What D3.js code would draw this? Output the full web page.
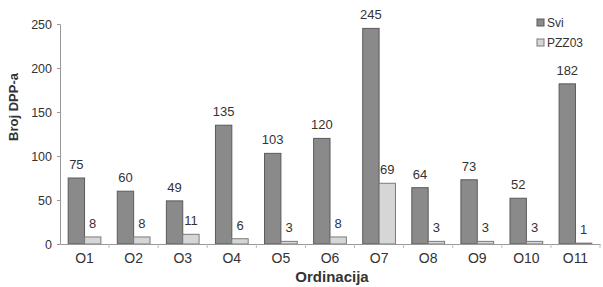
<!DOCTYPE html>
<html>
<head>
<meta charset="utf-8">
<script src="https://cdn.jsdelivr.net/npm/d3@7"></script>
<style>
  body { margin: 0; background: #fff; }
  svg { display: block; font-family: "Liberation Sans", Arial, sans-serif; }
</style>
</head>
<body>
<div id="chart"></div>
<script>
const categories = ["O1", "O2", "O3", "O4", "O5", "O6", "O7", "O8", "O9", "O10", "O11"];
const svi = [75, 60, 49, 135, 103, 120, 245, 64, 73, 52, 182];
const pzz03 = [8, 8, 11, 6, 3, 8, 69, 3, 3, 3, 1];
const seriesNames = ["Svi", "PZZ03"];
const yTicks = [0, 50, 100, 150, 200, 250];

const colors = ["#8a8a8a", "#d6d6d6"];
const strokes = ["#5a5a5a", "#7a7a7a"];
const textColor = "#333333";

const w = 603, h = 287;
const m = { top: 24, right: 3, bottom: 43, left: 60 };

const svg = d3.select("#chart").append("svg").attr("width", w).attr("height", h);

const x = d3.scaleBand().domain(categories).range([m.left, w - m.right]).paddingInner(0).paddingOuter(0);
const y = d3.scaleLinear().domain([0, 250]).range([h - m.bottom, m.top]);
const sub = d3.scaleBand().domain(seriesNames).range([0, x.bandwidth()]).paddingOuter(0.5).paddingInner(0);

// y axis
const gy = svg.append("g").attr("transform", `translate(${m.left},0)`)
  .call(d3.axisLeft(y).tickValues(yTicks).tickSize(3).tickPadding(5));
gy.attr("font-family", null);
gy.select(".domain").attr("stroke", "#999");
gy.selectAll(".tick line").attr("stroke", "#999");
gy.selectAll("text").attr("fill", textColor).attr("font-size", 12.5);

// bars
const rows = categories.map((c, i) => ({ c, vals: [svi[i], pzz03[i]] }));
const grp = svg.append("g").selectAll("g").data(rows).join("g")
  .attr("transform", d => `translate(${x(d.c)},0)`);

grp.selectAll("rect").data(d => d.vals.map((v, k) => ({ v, k }))).join("rect")
  .attr("x", d => sub(seriesNames[d.k]))
  .attr("width", sub.bandwidth())
  .attr("y", d => y(d.v))
  .attr("height", d => y(0) - y(d.v))
  .attr("fill", d => colors[d.k])
  .attr("stroke", d => strokes[d.k])
  .attr("stroke-width", 1);

grp.selectAll("text").data(d => d.vals.map((v, k) => ({ v, k }))).join("text")
  .attr("x", d => sub(seriesNames[d.k]) + sub.bandwidth() / 2)
  .attr("y", d => y(d.v) - 9)
  .attr("text-anchor", "middle")
  .attr("font-size", 13)
  .style("fill", textColor)
  .text(d => d.v);

// x axis
const gx = svg.append("g").attr("transform", `translate(0,${y(0)})`)
  .call(d3.axisBottom(x).tickSize(0).tickPadding(9));
gx.attr("font-family", null);
gx.select(".domain").attr("stroke", "#999");
gx.selectAll("text").attr("fill", textColor).attr("font-size", 14);
// separators between categories
gx.append("g").selectAll("line").data(categories).join("line")
  .attr("x1", (d, i) => m.left + (i + 1) * x.bandwidth())
  .attr("x2", (d, i) => m.left + (i + 1) * x.bandwidth())
  .attr("y1", 0).attr("y2", 4)
  .attr("stroke", "#bbb");

// axis titles
svg.append("text")
  .attr("x", (m.left + w - m.right) / 2 + 2)
  .attr("y", 282)
  .attr("text-anchor", "middle")
  .attr("font-size", 15)
  .attr("font-weight", "bold")
  .style("fill", textColor)
  .text("Ordinacija");

svg.append("text")
  .attr("transform", `translate(18,${107}) rotate(-90)`)
  .attr("text-anchor", "middle")
  .attr("font-size", 13)
  .attr("font-weight", "bold")
  .style("fill", textColor)
  .text("Broj DPP-a");

// legend
const lg = svg.append("g").attr("transform", "translate(537,16)");
seriesNames.forEach((s, i) => {
  lg.append("rect").attr("x", 0).attr("y", i * 20 + 3).attr("width", 7).attr("height", 7)
    .attr("fill", colors[i]).attr("stroke", strokes[i]);
  lg.append("text").attr("x", 10).attr("y", i * 20 + 10.5)
    .attr("font-size", 12).style("fill", textColor).text(s);
});
</script>
</body>
</html>
